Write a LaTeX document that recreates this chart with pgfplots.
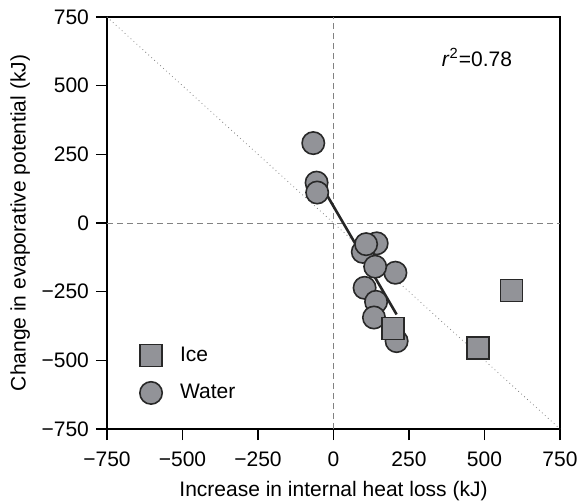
\documentclass[border=0pt]{standalone}
\usepackage{fontspec}
\setmainfont{Liberation Sans}
\usepackage{pgfplots}
\pgfplotsset{compat=1.18}

\definecolor{markfill}{RGB}{146,147,152}
\definecolor{markedge}{RGB}{40,40,40}
\definecolor{guide}{RGB}{130,130,130}

\newcommand{\chartfont}{\fontsize{10.5}{12.6}\selectfont}

\begin{document}
\begin{tikzpicture}
\begin{axis}[
  scale only axis,
  width=226.5pt, height=206pt,
  at={(0,0)}, anchor=south west,
  xmin=-750, xmax=750, ymin=-750, ymax=750,
  xtick={-750,-500,-250,0,250,500,750},
  ytick={-750,-500,-250,0,250,500,750},
  xticklabels={−750,−500,−250,0,250,500,750},
  yticklabels={−750,−500,−250,0,250,500,750},
  tick align=outside,
  major tick length=5.5pt,
  xtick pos=bottom, ytick pos=left,
  axis line style={line width=0.6pt, black},
  tick style={line width=0.6pt, black},
  tick label style={font=\chartfont},
  xticklabel style={yshift=-2.5pt},
  label style={font=\chartfont},
  xlabel={Increase in internal heat loss (kJ)},
  ylabel={Change in evaporative potential (kJ)},
  xlabel style={yshift=-0.5pt},
  ylabel style={yshift=-1pt},
  legend style={at={(axis cs:-685,-420)}, anchor=north west, draw=none, fill=none,
    font=\chartfont, row sep=6pt},
  legend cell align=left,
  legend image code/.code={
    \path[draw=none, fill=none] (0pt,-5pt) rectangle (21.5pt,5pt);
    \draw[#1] plot coordinates {(9pt,0pt)};
  },
  clip=false,
]
% legend entries
\addlegendimage{only marks, mark=square*, mark size=5.5pt,
  mark options={fill=markfill, draw=markedge, line width=0.8pt}}
\addlegendentry{Ice}
\addlegendimage{only marks, mark=*, mark size=5.6pt,
  mark options={fill=markfill, draw=markedge, line width=0.8pt}}
\addlegendentry{Water}

% line of equality and zero lines
\addplot[forget plot, guide, line width=0.4pt, dash pattern=on 0.4pt off 1.6pt]
  coordinates {(-750,750) (750,-750)};
\addplot[forget plot, guide, line width=0.5pt, dash pattern=on 3pt off 2pt]
  coordinates {(0,-750) (0,750)};
\addplot[forget plot, guide, line width=0.5pt, dash pattern=on 3pt off 2pt]
  coordinates {(-750,0) (750,0)};

% regression line
\addplot[forget plot, black!85, line width=1.3pt]
  coordinates {(-67,187) (209,-333)};

% water
\addplot[forget plot, only marks, mark=*, mark size=5.6pt,
  mark options={fill=markfill, draw=markedge, line width=0.8pt}]
  coordinates {
    (-67,291) (-56,147) (-54,111) (205,-181) (143,-74) (97,-105)
    (108,-77) (138,-159) (103,-236) (141,-287) (134,-344) (209,-430)
  };

% ice
\addplot[forget plot, only marks, mark=square*, mark size=5.5pt,
  mark options={fill=markfill, draw=markedge, line width=0.8pt}]
  coordinates {(198,-384) (590,-245) (479,-454)};

\node[font=\chartfont] at (axis cs:475,604)
  {\textit{r}\textsuperscript{2}=0.78};
\end{axis}
\pgfresetboundingbox
\path[use as bounding box] (-53.5pt,-35.5pt) rectangle (236pt,214.5pt);
\end{tikzpicture}
\end{document}
